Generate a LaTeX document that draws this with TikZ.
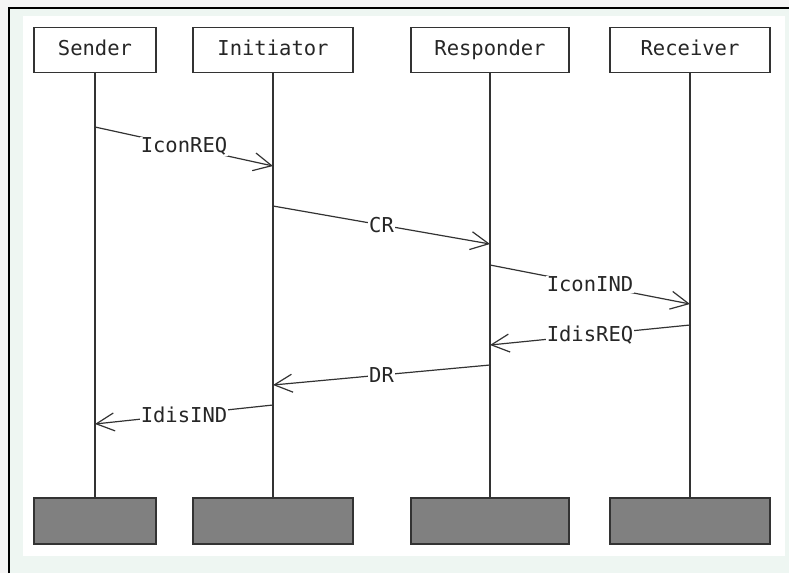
\documentclass[tikz,border=0pt]{standalone}
\usepackage{fontspec}
\newfontfamily\dvm{DejaVu Sans Mono}
\usetikzlibrary{arrows.meta}
\definecolor{mint}{HTML}{EEF6F2}
\definecolor{edge}{HTML}{333333}
\definecolor{boxgray}{HTML}{808080}
\tikzset{
  actor/.style={draw=edge, line width=1.5pt, fill=white, minimum height=45pt, inner sep=0pt, text height=14pt, text depth=4pt, font=\dvm\fontsize{20.5}{24}\selectfont, text=black!85},
  endbox/.style={draw=edge, line width=1.5pt, fill=boxgray, minimum height=46pt, inner sep=0pt},
  life/.style={draw=edge, line width=1.5pt},
  msg/.style={draw=edge, line width=1.2pt, -{Straight Barb[length=18pt,width=18pt,line width=1.2pt]}},
  lbl/.style={fill=white, inner sep=1pt, font=\dvm\fontsize{20.5}{24}\selectfont, text=black!85}
}
\begin{document}
\begin{tikzpicture}[x=1pt,y=-1pt]
\useasboundingbox (0,0) rectangle (789,573);
\fill[black!4] (0,0) rectangle (789,573);
\fill[mint] (9,8) rectangle (789,573);
\fill[white] (23,16) rectangle (785,556);
\draw[black, line width=2pt] (9,573) -- (9,8) -- (789,8);

\node[actor, minimum width=122pt] (snd) at (95,50) {Sender};
\node[actor, minimum width=160pt] (ini) at (273,50) {Initiator};
\node[actor, minimum width=158pt] (rsp) at (490,50) {Responder};
\node[actor, minimum width=160pt] (rcv) at (690,50) {Receiver};

\node[endbox, minimum width=122pt] (sndE) at (95,521) {};
\node[endbox, minimum width=160pt] (iniE) at (273,521) {};
\node[endbox, minimum width=158pt] (rspE) at (490,521) {};
\node[endbox, minimum width=160pt] (rcvE) at (690,521) {};

\draw[life] (snd.south) -- (sndE.north);
\draw[life] (ini.south) -- (iniE.north);
\draw[life] (rsp.south) -- (rspE.north);
\draw[life] (rcv.south) -- (rcvE.north);

\coordinate (a1) at (95,127);  \coordinate (b1) at (273,166);
\coordinate (a2) at (273,206); \coordinate (b2) at (490,244);
\coordinate (a3) at (490,265); \coordinate (b3) at (690,304);
\coordinate (a4) at (690,325); \coordinate (b4) at (490,345);
\coordinate (a5) at (490,365); \coordinate (b5) at (273,385);
\coordinate (a6) at (273,405); \coordinate (b6) at (95,424);

\draw[msg] (a1) -- node[lbl] {IconREQ} (b1);
\draw[msg] (a2) -- node[lbl] {CR} (b2);
\draw[msg] (a3) -- node[lbl] {IconIND} (b3);
\draw[msg] (a4) -- node[lbl] {IdisREQ} (b4);
\draw[msg] (a5) -- node[lbl] {DR} (b5);
\draw[msg] (a6) -- node[lbl] {IdisIND} (b6);
\end{tikzpicture}
\end{document}
